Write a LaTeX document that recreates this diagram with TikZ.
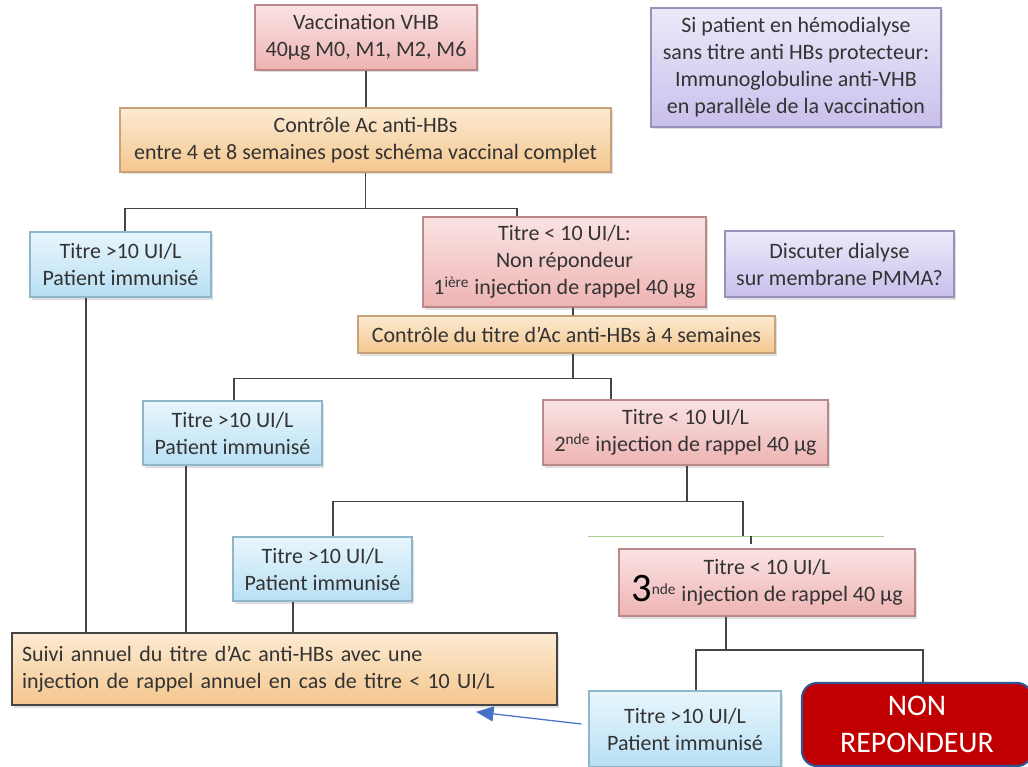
\documentclass[tikz,border=0pt]{standalone}
\usepackage{fontspec}
\setmainfont{Carlito}
\usetikzlibrary{arrows.meta, positioning, shadows}

\definecolor{txtgray}{HTML}{333333}
\definecolor{linegray}{HTML}{454545}
\definecolor{pinktop}{HTML}{FAE3E3}
\definecolor{pinkbot}{HTML}{EEB3B3}
\definecolor{pinkline}{HTML}{B98888}
\definecolor{orangetop}{HTML}{FCEAD2}
\definecolor{orangebot}{HTML}{F4C78E}
\definecolor{orangeline}{HTML}{C7A27A}
\definecolor{bluetop}{HTML}{E8F6FD}
\definecolor{bluebot}{HTML}{B8DFF4}
\definecolor{blueline}{HTML}{8FB6CB}
\definecolor{purpletop}{HTML}{EDE9F9}
\definecolor{purplebot}{HTML}{C9BFEC}
\definecolor{purpleline}{HTML}{9A91BA}
\definecolor{repred}{HTML}{C00000}
\definecolor{repblue}{HTML}{2F5597}
\definecolor{arrowblue}{HTML}{4472C4}
\definecolor{greenline}{HTML}{A9D18E}

\begin{document}
\begin{tikzpicture}[
    every node/.style={font=\fontsize{12.5}{15.4}\selectfont, text=txtgray},
    box/.style={rectangle, draw, line width=0.6pt, align=center, inner sep=2pt,
        drop shadow={shadow xshift=0.04cm, shadow yshift=-0.05cm, opacity=0.25}},
    pinkbox/.style={box, draw=pinkline, top color=pinktop, bottom color=pinkbot},
    orangebox/.style={box, draw=orangeline, top color=orangetop, bottom color=orangebot},
    bluebox/.style={box, draw=blueline, top color=bluetop, bottom color=bluebot},
    purplebox/.style={box, draw=purpleline, top color=purpletop, bottom color=purplebot},
    suivibox/.style={box, draw=linegray, line width=1pt, top color=orangetop, bottom color=orangebot},
    nonbox/.style={rectangle, rounded corners=0.3cm, draw=repblue, line width=1.2pt, fill=repred,
        align=center, text=white, font=\fontsize{17}{21}\selectfont},
    link/.style={draw=linegray, line width=1.1pt},
    pointer/.style={-{Triangle[length=3.5mm, width=3mm]}, draw=arrowblue, line width=0.7pt}
]

\useasboundingbox (0, 0) rectangle (20.56, 15.32);
\clip (0, 0) rectangle (20.56, 15.32);

% ============ VACCINATION (TOP) ============
\node[pinkbox, minimum width=4.44cm, minimum height=1.30cm] (vacc) at (7.32, 14.57) {Vaccination VHB\\40µg M0, M1, M2, M6};
\node[orangebox, minimum width=9.82cm, minimum height=1.28cm] (ctrl1) at (7.31, 12.52) {Contrôle Ac anti-HBs\\entre 4 et 8 semaines post schéma vaccinal complet};
\node[purplebox, minimum width=5.80cm, minimum height=2.38cm] (hemo) at (15.92, 13.97) {Si patient en hémodialyse\\sans titre anti HBs protecteur:\\Immunoglobuline anti-VHB\\en parallèle de la vaccination};

% ============ FIRST CONTROL ============
\node[bluebox, minimum width=3.62cm, minimum height=1.30cm] (imm1) at (2.41, 10.03) {Titre >10 UI/L\\Patient immunisé};
\node[pinkbox, minimum width=5.66cm, minimum height=1.80cm] (nonrep1) at (11.29, 10.08) {Titre < 10 UI/L:\\Non répondeur\\1\textsuperscript{ière} injection de rappel 40 µg};
\node[purplebox, minimum width=4.58cm, minimum height=1.32cm] (pmma) at (16.79, 10.04) {Discuter dialyse\\sur membrane PMMA?};
\node[orangebox, minimum width=8.34cm, minimum height=0.74cm] (ctrl2) at (11.33, 8.63) {Contrôle du titre d’Ac anti-HBs à 4 semaines};

% ============ SECOND AND THIRD INJECTION ============
\node[bluebox, minimum width=3.58cm, minimum height=1.28cm] (imm2) at (4.65, 6.66) {Titre >10 UI/L\\Patient immunisé};
\node[pinkbox, minimum width=5.70cm, minimum height=1.30cm] (inj2) at (13.71, 6.67) {Titre < 10 UI/L\\2\textsuperscript{nde} injection de rappel 40 µg};
\node[bluebox, minimum width=3.58cm, minimum height=1.28cm] (imm3) at (6.45, 3.94) {Titre >10 UI/L\\Patient immunisé};
\node[pinkbox, minimum width=5.92cm, minimum height=1.34cm] (inj3) at (15.34, 3.67) {Titre < 10 UI/L\\\smash{\fontsize{23}{15.4}\selectfont\color{black}3}\textsuperscript{nde} injection de rappel 40 µg};

% ============ FOLLOW-UP (BOTTOM) ============
\node[suivibox, minimum width=10.90cm, minimum height=1.44cm, text width=10.5cm, align=left] (suivi) at (5.69, 1.94) {Suivi annuel du titre d’Ac anti-HBs avec une\\injection de rappel annuel en cas de titre < 10 UI/L};
\node[bluebox, minimum width=3.84cm, minimum height=1.52cm] (imm4) at (13.70, 0.74) {Titre >10 UI/L\\Patient immunisé};
\node[nonbox, minimum width=4.60cm, minimum height=1.66cm] (nonrep2) at (18.34, 0.83) {NON\\REPONDEUR};

% Connectors
\draw[link] (vacc.south) -- (vacc.south |- ctrl1.north);
\draw[link] (ctrl1.south) -- ++(0, -0.72) -| ([xshift=0.09cm]imm1.north);
\draw[link] (ctrl1.south) -- ++(0, -0.72) -| ([xshift=-0.95cm]nonrep1.north);
\draw[link] ([xshift=0.17cm]nonrep1.south) -- ([xshift=0.13cm]ctrl2.north);
\draw[link] ([xshift=0.13cm]ctrl2.south) -- ++(0, -0.5) -| ([xshift=0.03cm]imm2.north);
\draw[link] ([xshift=0.13cm]ctrl2.south) -- ++(0, -0.5) -| ([xshift=-1.49cm]inj2.north);
\draw[link] ([xshift=0.03cm]inj2.south) -- ++(0, -0.72) -| ([xshift=0.21cm]imm3.north);
\draw[link] ([xshift=0.03cm]inj2.south) -- ++(0, -0.72) -| ([xshift=-0.48cm, yshift=0.24cm]inj3.north);
\draw[greenline, line width=1pt] ([xshift=-3.58cm, yshift=0.24cm]inj3.north) -- ++(5.92, 0);
\draw[link, line width=0.7pt] ([xshift=-0.32cm, yshift=0.24cm]inj3.north) -- ++(0, -0.16);
\draw[link] ([xshift=-0.82cm]inj3.south) -- ++(0, -0.66) -| ([xshift=0.22cm]imm4.north);
\draw[link] ([xshift=-0.82cm]inj3.south) -- ++(0, -0.66) -| ([xshift=0.12cm]nonrep2.north);

% Into follow-up box
\draw[link] ([xshift=-0.69cm]imm1.south) -- ([xshift=-0.69cm]imm1.south |- suivi.north);
\draw[link] ([xshift=-0.93cm]imm2.south) -- ([xshift=-0.93cm]imm2.south |- suivi.north);
\draw[link] ([xshift=-0.59cm]imm3.south) -- ([xshift=-0.59cm]imm3.south |- suivi.north);
\draw[pointer] ([xshift=-0.14cm, yshift=0.1cm]imm4.west) -- ([xshift=3.83cm, yshift=-0.12cm]suivi.south);

\end{tikzpicture}
\end{document}
